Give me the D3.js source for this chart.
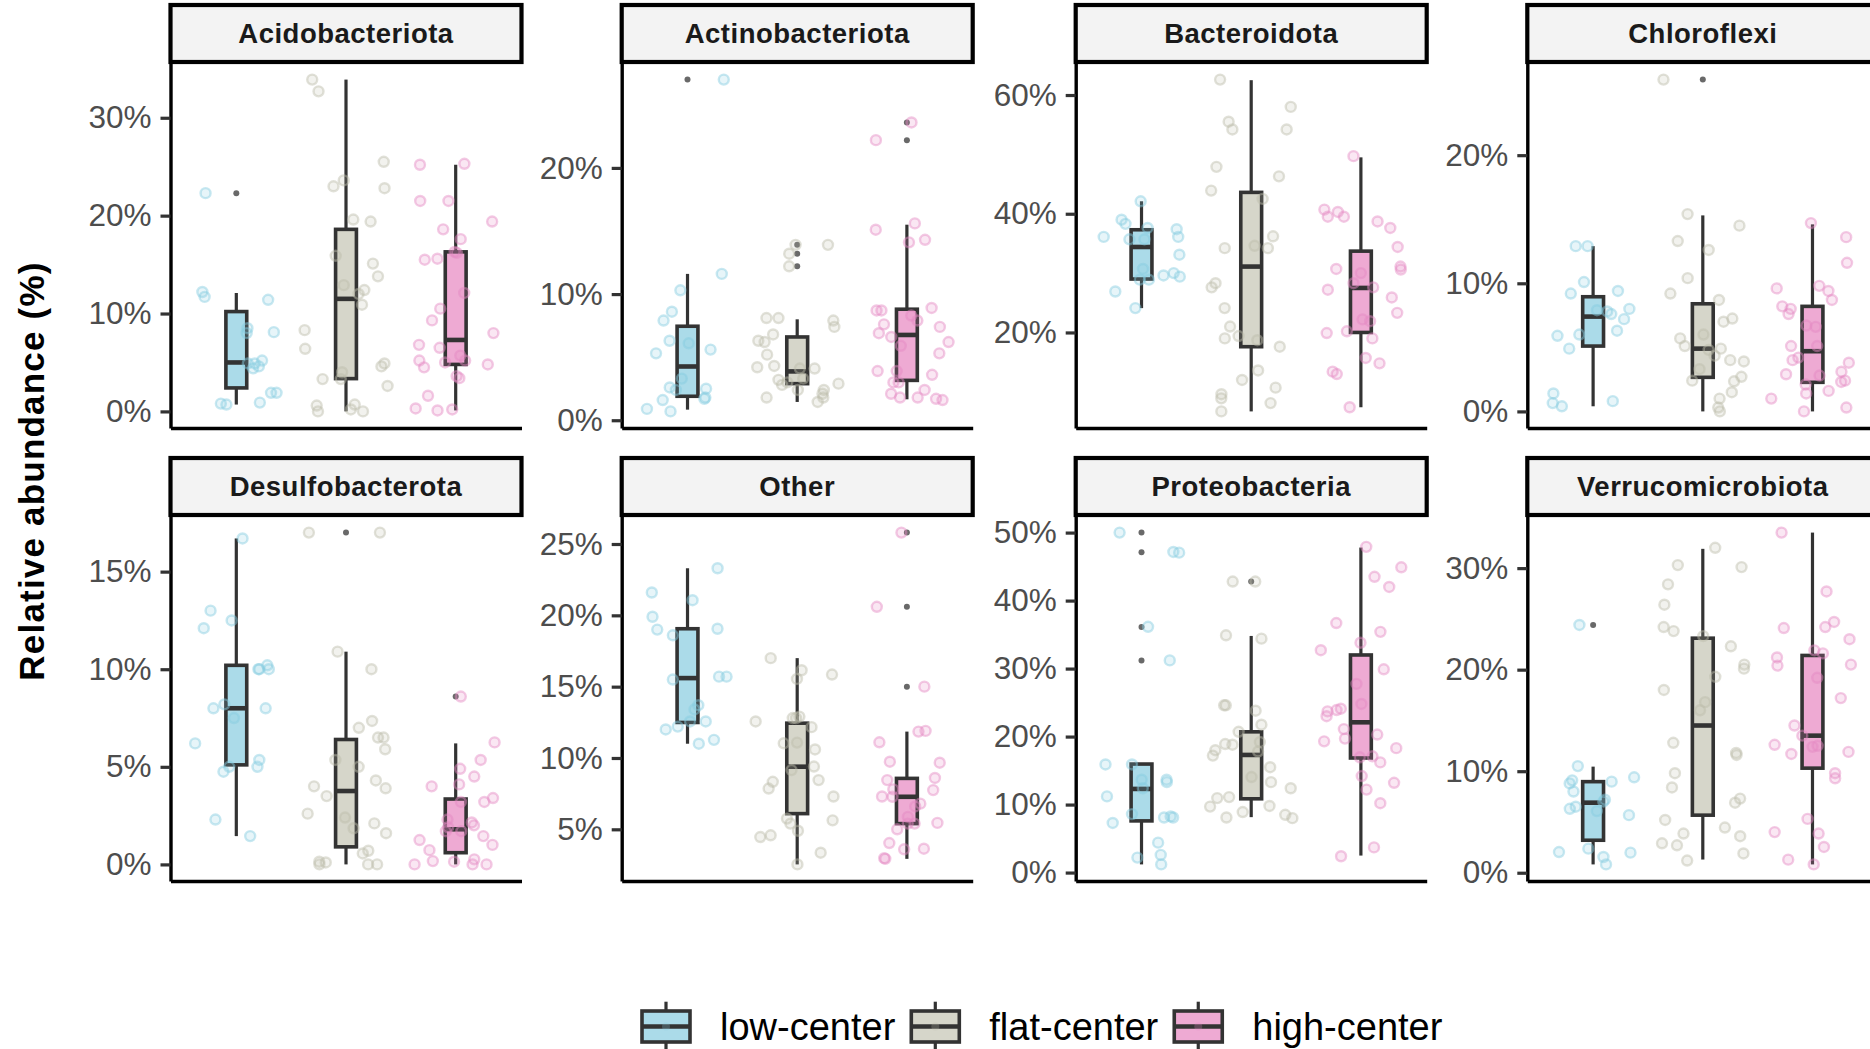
<!DOCTYPE html>
<html>
<head>
<meta charset="utf-8">
<script src="https://cdn.jsdelivr.net/npm/d3@7"></script>
<style>
  body { margin: 0; background: #fff; }
  svg { display: block; font-family: "Liberation Sans", Arial, sans-serif; }
</style>
</head>
<body>
<svg id="chart" width="1870" height="1049"></svg>
<script>
// facets and groups
const phyla = ["Acidobacteriota", "Actinobacteriota", "Bacteroidota", "Chloroflexi",
  "Desulfobacterota", "Other", "Proteobacteria", "Verrucomicrobiota"];
const groups = ["low-center", "flat-center", "high-center"];

// y tick values (%) per facet
const yTicks = [[0, 10, 20, 30], [0, 10, 20], [20, 40, 60], [0, 10, 20],
  [0, 5, 10, 15], [5, 10, 15, 20, 25], [0, 10, 20, 30, 40, 50], [0, 10, 20, 30]];

// box statistics per facet, per group (low, flat, high)
const q1 = [[2.4, 3.35, 4.8], [1.9, 2.9, 3.16], [29.0, 17.6, 20.0], [5.1, 2.66, 2.27],
  [5.1, 0.9, 0.6], [12.49, 6.1, 5.4], [7.6, 10.85, 16.85], [3.2, 5.67, 10.3]];
const median = [[5.0, 11.5, 7.3], [4.26, 3.87, 6.76], [34.4, 31.1, 27.5], [7.4, 4.9, 4.7],
  [8.0, 3.76, 1.8], [15.6, 9.39, 7.28], [12.3, 17.3, 22.1], [6.9, 14.5, 13.5]];
const q3 = [[10.2, 18.6, 16.3], [7.45, 6.6, 8.8], [37.3, 43.6, 33.7], [8.95, 8.4, 8.2],
  [10.2, 6.4, 3.35], [19.06, 12.44, 8.57], [15.96, 20.7, 32.0], [8.97, 23.1, 21.4]];
const whiskLo = [[0.7, 0.0, 0.1], [0.84, 1.45, 1.66], [24.1, 6.7, 7.4], [0.4, 0, 0],
  [1.45, 0, 0], [11.0, 2.54, 2.93], [1.2, 8.15, 2.5], [0.82, 1.3, 0.82]];
const whiskHi = [[12.1, 33.9, 25.2], [11.6, 8.0, 15.5], [42.1, 62.5, 49.5], [12.9, 15.3, 14.6],
  [16.7, 10.9, 6.2], [23.3, 17.0, 11.85], [15.96, 34.8, 47.8], [10.45, 31.9, 33.5]];
const outliers = [
  [[22.3], [], []],
  [[27.0], [13.9, 13.2, 12.2], [23.6, 22.2]],
  [[], [], []],
  [[], [25.9], []],
  [[], [17.0], [8.6]],
  [[], [], [25.8, 20.6, 15.0]],
  [[50.0, 47.1, 36.1, 31.2], [42.8], []],
  [[24.4], [], []]
];

// sample values (%) per facet: [low, flat, high]
const acidoPts = [
  [22.3, 12.2, 11.7, 11.4, 8.0, 8.1, 8.5, 4.9, 4.4, 4.6, 4.9, 1.9, 1.9, 0.8, 0.9, 0.7, 5.2],
  [33.9, 32.7, 25.5, 23.6, 23.0, 22.8, 19.4, 19.6, 15.9, 15.1, 13.8, 12.9, 12.4, 12.0, 10.9, 8.3, 6.4, 4.9, 4.6, 4.0, 3.3, 3.3, 2.6, 0.7, 0.6, 0.2, 0.0, 0.0],
  [25.2, 25.3, 21.5, 21.5, 19.4, 18.6, 17.6, 16.3, 16.2, 15.6, 15.5, 12.1, 10.5, 9.3, 8.0, 6.8, 6.5, 5.7, 5.2, 5.2, 5.0, 4.8, 4.5, 3.6, 3.4, 1.6, 0.2, 0.3, 0.1]
];
const actinoPts = [
  [27.0, 11.6, 10.3, 8.6, 7.9, 6.3, 6.1, 5.6, 5.3, 3.3, 2.6, 2.5, 2.4, 1.8, 1.7, 1.6, 0.9, 0.7],
  [13.9, 13.9, 13.2, 12.2, 8.1, 8.1, 7.9, 7.4, 6.8, 6.3, 6.2, 5.2, 4.1, 4.1, 4.3, 4.2, 3.3, 3.2, 3.0, 2.9, 2.8, 2.4, 2.4, 2.1, 1.8, 1.8, 1.45],
  [23.6, 22.2, 15.6, 15.1, 14.3, 14.1, 8.9, 8.7, 8.7, 8.3, 7.9, 7.6, 7.4, 6.9, 6.6, 6.2, 5.9, 5.3, 3.9, 3.9, 3.6, 3.0, 3.0, 2.4, 2.1, 1.8, 1.8, 1.7, 1.6]
];
const bactPts = [
  [42.1, 39.0, 38.3, 37.4, 37.6, 36.1, 36.1, 35.7, 35.7, 33.1, 30.7, 30.0, 29.6, 28.9, 29.4, 28.9, 26.9, 24.1],
  [62.6, 58.0, 55.5, 54.2, 54.2, 47.9, 46.3, 43.9, 42.5, 36.2, 34.6, 34.2, 34.2, 28.3, 27.6, 24.1, 21.0, 19.4, 19.0, 18.7, 17.6, 13.6, 12.0, 10.7, 9.6, 8.9, 8.1, 6.7],
  [49.7, 40.3, 39.5, 40.7, 39.5, 38.7, 37.6, 34.4, 31.1, 30.7, 30.0, 30.6, 28.3, 27.6, 27.2, 25.9, 23.3, 22.2, 21.9, 20.2, 19.9, 19.0, 15.7, 14.8, 13.4, 13.0, 7.4]
];
const chloroPts = [
  [12.9, 12.9, 10.1, 9.2, 9.4, 8.0, 7.8, 7.6, 7.9, 7.2, 6.3, 6.0, 5.9, 4.9, 1.4, 0.8, 0.65, 0.4],
  [25.9, 15.4, 14.5, 13.3, 12.6, 10.4, 9.2, 8.7, 7.25, 7.0, 6.0, 5.7, 5.1, 4.9, 4.8, 4.35, 4.0, 3.9, 3.3, 2.7, 2.4, 2.35, 1.5, 1.0, 0.3, 0.0],
  [14.7, 13.6, 11.6, 9.8, 9.6, 9.4, 8.7, 8.2, 8.0, 7.6, 6.6, 6.7, 5.1, 5.1, 4.2, 4.0, 3.8, 3.1, 2.9, 2.8, 2.4, 2.3, 2.1, 1.6, 1.4, 1.0, 0.3, 0.0]
];
const desulfoPts = [
  [16.7, 13.0, 12.1, 12.5, 10.2, 10.0, 10.0, 10.0, 8.0, 8.0, 8.2, 7.5, 6.2, 5.35, 5.0, 5.0, 4.75, 2.3, 1.45],
  [17.0, 17.0, 10.9, 10.0, 7.35, 7.0, 6.5, 6.5, 5.9, 5.35, 5.0, 4.3, 4.0, 3.9, 3.5, 2.6, 2.4, 2.1, 1.85, 1.6, 0.7, 0.56, 0.14, 0.1, 0, 0, 0],
  [8.6, 6.25, 5.35, 4.9, 4.5, 4.1, 4.0, 3.2, 3.2, 3.4, 2.3, 2.15, 2.0, 1.9, 1.7, 1.7, 1.45, 1.25, 1.0, 0.73, 0.26, 0.17, 0, 0, 0.14, 0]
];
const otherPts = [
  [23.3, 21.6, 21.06, 19.9, 19.06, 19.0, 18.6, 15.7, 15.7, 15.5, 13.7, 13.4, 12.56, 12.56, 12.2, 12.0, 11.27, 11.0],
  [17.0, 16.15, 15.85, 15.54, 12.8, 12.8, 12.56, 12.9, 12.16, 11.08, 11.03, 10.6, 9.4, 9.15, 8.33, 8.45, 7.86, 7.3, 5.75, 5.63, 5.4, 4.9, 4.58, 4.46, 3.36, 2.54],
  [25.8, 20.6, 15.0, 11.85, 11.9, 11.1, 9.74, 9.67, 8.6, 8.45, 7.8, 7.75, 7.28, 7.3, 6.8, 6.6, 5.87, 5.45, 5.4, 5.4, 5.0, 4.04, 3.64, 3.6, 2.98, 2.93]
];
const proteoPts = [
  [50.0, 47.15, 47.05, 36.15, 31.2, 15.9, 15.9, 13.65, 13.65, 13.3, 11.2, 12.4, 8.25, 8.1, 8.6, 8.1, 7.3, 4.4, 2.6, 2.2, 1.2],
  [42.8, 42.8, 34.9, 34.4, 24.6, 24.6, 23.8, 21.75, 20.7, 19.2, 18.8, 18.9, 17.8, 18.0, 17.2, 15.5, 14.05, 13.3, 12.4, 11.1, 10.95, 9.7, 9.8, 8.9, 8.5, 8.1, 8.0],
  [47.9, 44.9, 43.5, 42.0, 36.7, 35.4, 33.8, 32.7, 29.9, 27.75, 24.8, 24.1, 23.7, 23.9, 23.0, 21.1, 20.3, 19.7, 19.3, 18.3, 17.1, 16.95, 16.2, 14.2, 13.2, 12.2, 10.2, 3.7, 2.4]
];
const verrucoPts = [
  [24.4, 10.5, 9.4, 9.1, 8.97, 8.8, 8.0, 7.2, 7.0, 6.5, 6.3, 6.07, 5.67, 2.37, 1.98, 2.04, 1.55, 0.82],
  [32.0, 30.3, 30.1, 28.4, 26.4, 24.2, 23.8, 23.3, 22.3, 20.5, 20.1, 19.3, 18.0, 16.8, 16.0, 12.8, 11.8, 11.6, 9.8, 8.4, 7.3, 6.9, 5.2, 4.45, 3.86, 3.6, 2.9, 2.7, 1.9, 1.2],
  [33.5, 27.7, 24.7, 24.1, 24.2, 23.0, 21.9, 21.6, 21.2, 20.4, 20.5, 19.2, 17.2, 14.5, 13.5, 12.6, 12.5, 12.4, 11.9, 11.7, 9.8, 9.3, 5.3, 4.0, 3.86, 2.54, 1.29, 0.82]
];
const points = [acidoPts, actinoPts, bactPts, chloroPts, desulfoPts, otherPts, proteoPts, verrucoPts];

// styling
const fills = ["#abdbe9", "#d6d6ca", "#eeaad3"];
const ptCols = ["#86cbe1", "#bdbdab", "#e589c3"];
const font = `"Liberation Sans", Arial, sans-serif`;

const colLeft = [170.5, 621.7, 1075.7, 1527.3];
const rowTop = [63, 516];
const panelW = 351, panelH = 365, stripH = 57;

const svg = d3.select("#chart");

// deterministic jitter, like geom_jitter
const jitter = d3.randomUniform.source(d3.randomLcg(0.2718))(-0.38, 0.38);

phyla.forEach((name, i) => {
  const left = colLeft[i % 4];
  const top = rowTop[Math.floor(i / 4)];
  const bottom = top + panelH;

  const x = d3.scalePoint()
    .domain(groups)
    .range([left, left + panelW])
    .padding(0.6);
  const step = x.step();

  const allVals = d3.merge([...points[i], ...outliers[i], whiskLo[i], whiskHi[i]]);
  const [lo, hi] = d3.extent(allVals);
  const pad = (hi - lo) * 0.05;
  const y = d3.scaleLinear()
    .domain([lo - pad, hi + pad])
    .range([bottom, top]);

  const g = svg.append("g");

  // strip
  g.append("rect")
    .attr("x", left)
    .attr("y", top - stripH - 1)
    .attr("width", panelW)
    .attr("height", stripH)
    .attr("fill", "#f3f3f3")
    .attr("stroke", "#000")
    .attr("stroke-width", 4.2);
  g.append("text")
    .text(name)
    .attr("x", left + panelW / 2)
    .attr("y", top - 1 - stripH / 2)
    .attr("text-anchor", "middle")
    .attr("dominant-baseline", "central")
    .style("font-family", font)
    .style("font-weight", "bold")
    .style("font-size", "27.5px")
    .style("letter-spacing", "0.5px")
    .attr("fill", "#1a1a1a");

  // y axis
  const yAxis = g.append("g")
    .attr("transform", `translate(${left},0)`)
    .call(d3.axisLeft(y)
      .tickValues(yTicks[i])
      .tickFormat(d => d + "%")
      .tickSize(10)
      .tickSizeOuter(0)
      .tickPadding(9));
  yAxis.select(".domain").attr("stroke", "#000").attr("stroke-width", 3.4);
  yAxis.selectAll(".tick line").attr("stroke", "#333").attr("stroke-width", 3.2);
  yAxis.selectAll(".tick text")
    .style("font-family", font)
    .style("font-size", "31.5px")
    .attr("fill", "#4d4d4d");

  // x axis: line only
  const xAxis = g.append("g")
    .attr("transform", `translate(0,${bottom})`)
    .call(d3.axisBottom(x).tickValues([]).tickSizeOuter(0));
  xAxis.select(".domain").attr("stroke", "#000").attr("stroke-width", 3.4);

  // boxplots
  groups.forEach((grp, j) => {
    const cx = x(grp);
    const bw = step * 0.19;
    g.append("line")
      .attr("x1", cx).attr("x2", cx)
      .attr("y1", y(whiskHi[i][j])).attr("y2", y(q3[i][j]))
      .attr("stroke", "#333").attr("stroke-width", 3.2);
    g.append("line")
      .attr("x1", cx).attr("x2", cx)
      .attr("y1", y(q1[i][j])).attr("y2", y(whiskLo[i][j]))
      .attr("stroke", "#333").attr("stroke-width", 3.2);
    g.append("rect")
      .attr("x", cx - bw / 2)
      .attr("y", y(q3[i][j]))
      .attr("width", bw)
      .attr("height", y(q1[i][j]) - y(q3[i][j]))
      .attr("fill", fills[j])
      .attr("stroke", "#333")
      .attr("stroke-width", 3.6);
    g.append("line")
      .attr("x1", cx - bw / 2).attr("x2", cx + bw / 2)
      .attr("y1", y(median[i][j])).attr("y2", y(median[i][j]))
      .attr("stroke", "#333").attr("stroke-width", 4.6);
    g.selectAll(null)
      .data(outliers[i][j])
      .join("circle")
      .attr("cx", cx)
      .attr("cy", d => y(d))
      .attr("r", 3)
      .attr("fill", "#444")
      .attr("opacity", 0.8);
  });

  // jittered samples
  groups.forEach((grp, j) => {
    g.selectAll(null)
      .data(points[i][j])
      .join("circle")
      .attr("cx", () => x(grp) + jitter() * step)
      .attr("cy", d => y(d))
      .attr("r", 5)
      .attr("fill", ptCols[j])
      .attr("fill-opacity", 0.2)
      .attr("stroke", ptCols[j])
      .attr("stroke-opacity", 0.45)
      .attr("stroke-width", 2.4);
  });
});

// y axis title
svg.append("text")
  .text("Relative abundance (%)")
  .attr("transform", "translate(31,471) rotate(-90)")
  .attr("text-anchor", "middle")
  .attr("dominant-baseline", "central")
  .style("font-family", font)
  .style("font-weight", "bold")
  .style("font-size", "35px")
  .style("letter-spacing", "1.2px")
  .attr("fill", "#000");

// legend
const keyW = 64, keyH = 62, legendMid = 1026.5;
let lx = 634;
groups.forEach((grp, j) => {
  const k = svg.append("g").attr("transform", `translate(${lx},${legendMid - keyH / 2})`);
  k.append("line")
    .attr("x1", keyW / 2).attr("x2", keyW / 2)
    .attr("y1", keyH * 0.1).attr("y2", keyH * 0.25)
    .attr("stroke", "#333").attr("stroke-width", 3.2);
  k.append("line")
    .attr("x1", keyW / 2).attr("x2", keyW / 2)
    .attr("y1", keyH * 0.75).attr("y2", keyH * 0.9)
    .attr("stroke", "#333").attr("stroke-width", 3.2);
  k.append("rect")
    .attr("x", keyW * 0.125).attr("y", keyH * 0.25)
    .attr("width", keyW * 0.75).attr("height", keyH * 0.5)
    .attr("fill", fills[j])
    .attr("stroke", "#333").attr("stroke-width", 3.6);
  k.append("line")
    .attr("x1", keyW * 0.125).attr("x2", keyW * 0.875)
    .attr("y1", keyH / 2).attr("y2", keyH / 2)
    .attr("stroke", "#333").attr("stroke-width", 4.6);
  k.append("circle")
    .attr("cx", keyW / 2).attr("cy", keyH / 2).attr("r", 4)
    .attr("fill", ptCols[j]).attr("opacity", 0.25);
  const t = svg.append("text")
    .text(grp)
    .attr("x", lx + 86)
    .attr("y", 1039.5)
    .style("font-family", font)
    .style("font-size", "38px")
    .attr("fill", "#000");
  lx = lx + 86 + t.node().getComputedTextLength() + 8;
});
</script>
</body>
</html>
